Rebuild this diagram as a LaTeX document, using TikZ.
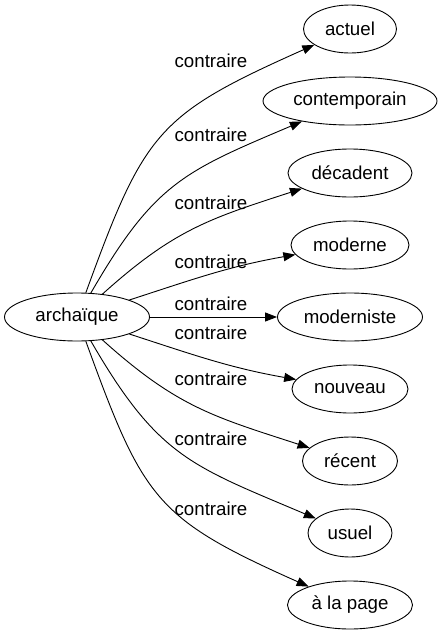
\documentclass[tikz,border=0pt]{standalone}
\usepackage{fontspec}
\setmainfont{Liberation Sans}
\usetikzlibrary{shapes.geometric}
\usetikzlibrary{arrows.meta}
\usetikzlibrary{positioning}

\begin{document}
\begin{tikzpicture}[x=1pt, y=-1pt, line width=0.9pt, word/.style = {ellipse, draw, inner sep=0, minimum height=48pt, font=\fontsize{18.7}{22}\selectfont}, rel/.style = {inner sep=0, font=\fontsize{18.7}{22}\selectfont}, node distance=72pt, >={Triangle[length=12pt,width=9pt]}]

\useasboundingbox (0,0) rectangle (441,635);

\node[word, minimum width=145pt](arch) at (77,317){archaïque};
\node[word, minimum width=93pt](actuel) at (350,29){actuel};
\node[word, minimum width=174pt, below of=actuel](contemporain){contemporain};
\node[word, minimum width=124pt, below of=contemporain](decadent){décadent};
\node[word, minimum width=118pt, below of=decadent](moderne){moderne};
\node[word, minimum width=145pt, below of=moderne](moderniste){moderniste};
\node[word, minimum width=116pt, below of=moderniste](nouveau){nouveau};
\node[word, minimum width=95pt, below of=nouveau](recent){récent};
\node[word, minimum width=84pt, below of=recent](usuel){usuel};
\node[word, minimum width=125pt, below of=usuel](alapage){à la page};

\draw [->] (arch) to[out=70, in=204, looseness=1.3] (actuel);
\draw [->] (arch) to[out=60, in=203, looseness=1.2] (contemporain);
\draw [->] (arch) to[out=42, in=198, looseness=1.1] (decadent);
\draw [->] (arch) to[out=18, in=190] (moderne);
\draw [->] (arch) to (moderniste);
\draw [->] (arch) to[out=-18, in=170] (nouveau);
\draw [->] (arch) to[out=-42, in=162, looseness=1.1] (recent);
\draw [->] (arch) to[out=-60, in=157, looseness=1.2] (usuel);
\draw [->] (arch) to[out=-70, in=156, looseness=1.3] (alapage);

\node[rel](l1) at (211,61){contraire};
\node[rel](l2) at (211,135){contraire};
\node[rel](l3) at (211,203){contraire};
\node[rel](l4) at (211,262){contraire};
\node[rel](l5) at (211,304){contraire};
\node[rel](l6) at (211,333){contraire};
\node[rel](l7) at (211,379){contraire};
\node[rel](l8) at (211,439){contraire};
\node[rel](l9) at (211,509){contraire};

\end{tikzpicture}
\end{document}
